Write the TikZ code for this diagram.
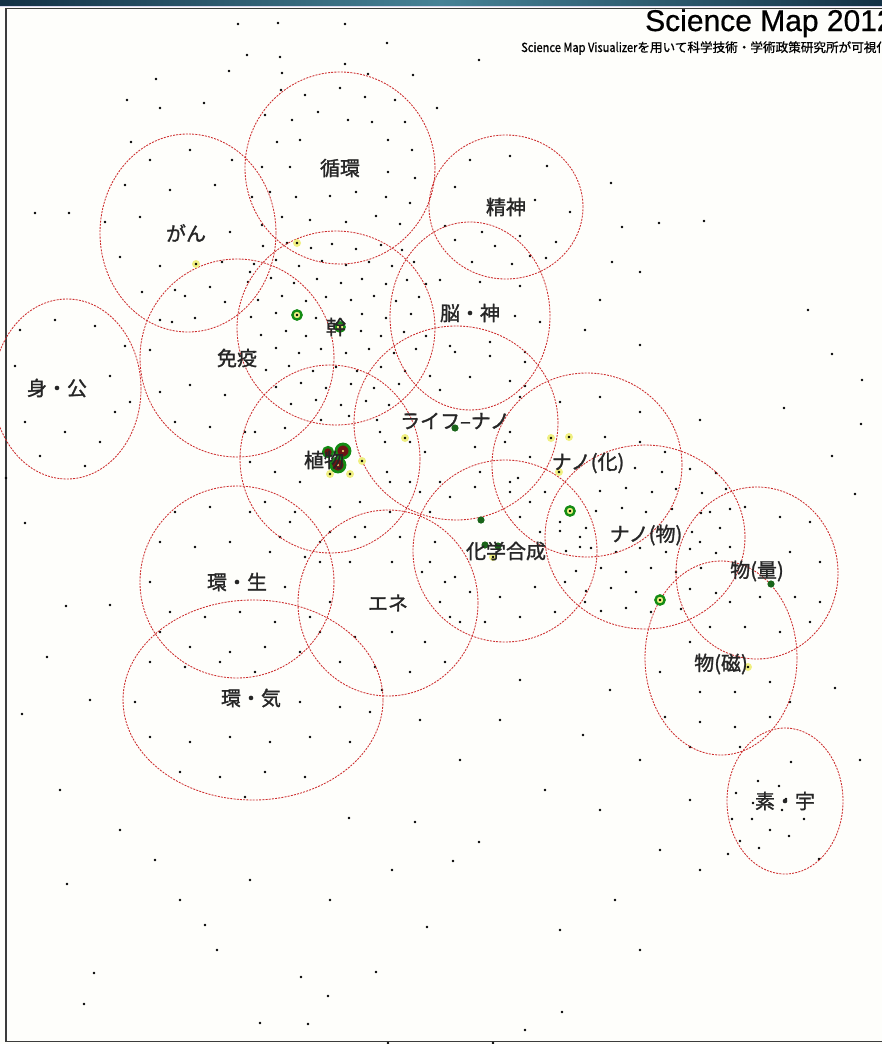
\documentclass[tikz,border=0pt]{standalone}
\usepackage{fontspec}
\setmainfont{Liberation Sans}
\newfontfamily\jp{Noto Sans CJK JP}
\newfontfamily\jpb[FakeBold=1.3]{Noto Sans CJK JP}
\definecolor{bg}{RGB}{254,254,251}
\definecolor{cred}{RGB}{205,45,45}
\definecolor{barA}{RGB}{20,50,70}
\definecolor{barB}{RGB}{70,130,150}
\definecolor{frameC}{RGB}{60,60,60}
\definecolor{ringG}{RGB}{20,140,20}
\definecolor{gdotC}{RGB}{25,100,25}
\definecolor{yhalo}{RGB}{240,240,130}
\definecolor{maroon}{RGB}{110,20,20}
\tikzset{
  circ/.style={cred, line width=0.85pt, dash pattern=on 2pt off 1.2pt},
  lab/.style={font=\jpb\fontsize{20}{22}\selectfont, inner sep=0pt, text=black!85},
}
\begin{document}
\begin{tikzpicture}[x=1pt,y=-1pt]
\useasboundingbox (0,0) rectangle (882,1044);
\clip (0,0) rectangle (882,1044);
\fill[bg] (0,0) rectangle (882,1044);
% top bar
\shade[left color=barA, right color=barA, middle color=barB] (0,0) rectangle (882,5.5);
\fill[white!70!cyan!40!blue!20] (0,5.5) rectangle (882,6.7);
% frame
\draw[frameC, line width=1.5pt] (882,8.6) -- (5.8,8.6) -- (5.8,1041.4) -- (882,1041.4);
% dots
\foreach \x/\y in {238/24,278/23,345/24,387/43,247/55,280/57,345/64,479/60,229/71,282/73,368/74,413/75,156/79,127/100,204/103,160/108,437/108,131/142,
281/90,305/95,340/88,365/97,395/100,265/115,292/120,318/112,348/120,372/122,405/122,277/142,300/140,388/140,412/150,262/167,290/167,388/172,415/178,270/192,296/197,330/196,356/192,386/197,410/203,282/217,310/220,346/222,376/216,400/224,
150/160,190/150,232/160,125/185,170/190,215/185,252/197,105/222,140/217,230/232,262/225,120/257,160/266,222/262,250/272,142/292,185/296,225/302,172/322,35/213,69/213,
470/160,510/156,547/166,455/187,535/200,570/212,445/226,482/232,520/236,556/242,472/262,512/264,546/258,
611/183,622/227,659/223,704/221,612/262,640/272,600/300,808/310,832/354,862/380,784/408,861/424,700/420,832/456,855/494,585/330,640/345,
263/246,287/243,311/248,332/244,356/249,381/245,402/250,
254/264,276/260,299/266,322/261,346/265,369/262,392/266,414/262,
248/282,271/278,294/283,317/279,341/283,362/279,386/284,407/280,426/284,
258/300,282/296,306/301,326/297,351/300,374/296,396/301,419/297,
251/317,276/313,316/318,362/314,386/318,411/314,
261/335,286/331,306/336,361/331,381/336,404/332,426/336,
254/352,276/348,299/353,321/349,346/353,369/349,394/353,416/349,
266/370,289/366,313/371,336/367,357/371,381/367,405/371,
276/387,301/383,326/388,351/384,374/388,399/384,
291/404,316/400,341/405,366/401,389/405,
321/420,349/416,377/420,
175/290,210/287,160/320,195/318,150/350,190/385,225/395,160/392,175/422,210/427,245/432,
455/240,495/246,530/256,440/280,480/282,520/286,515/316,540/322,450/346,490/342,525/352,430/376,470/377,510/381,
20/330,55/320,95/326,125/346,15/366,110/376,130/402,25/422,65/432,100/442,40/456,85/466,115/412,6/478,
255/432,285/428,380/432,410/442,250/462,275/472,300/482,387/472,410/482,265/502,295/512,330/507,360/502,390/512,280/537,320/542,355/537,
455/352,490/356,525/362,525/386,440/390,425/452,475/447,505/442,530/457,390/482,420/492,450/497,510/492,480/472,385/442,
520/397,560/402,600/397,640/412,510/432,605/437,640/442,665/452,530/502,540/532,580/537,518/478,
610/470,635/468,662/472,690/469,716/473,
600/491,626/488,652/492,676/489,702/493,726/489,
596/511,622/508,646/512,672/509,701/513,730/509,
560/531,586/528,692/532,720/528,
566/551,591/548,616/552,640/548,666/552,690/549,716/553,
576/571,601/568,626/572,651/568,676/572,701/568,
586/591,611/588,636/592,690/589,716/593,
601/611,626/608,651/612,681/609,
440/482,475/487,510/482,545/492,430/512,520/517,560/522,580/547,430/562,445/582,470/592,500/597,535/587,565/582,450/617,485/622,520/617,555/612,585/602,
175/512,210/507,250/512,290/522,160/542,195/547,230/542,270/552,305/557,150/582,285/587,170/612,205/617,240/612,275/622,310/617,190/647,230/652,265/647,300/652,
330/532,365/527,400/537,435/542,320/562,350/562,392/562,422/572,455/577,330/602,440/602,460/622,320/632,355/637,392/632,425/642,340/662,375/667,410/672,445/662,382/690,
160/632,150/662,185/667,220/662,255/672,135/702,300/702,340/707,370/712,150/737,190/742,230/737,270/742,310/737,350/742,180/772,220/777,265/772,305/777,245/797,
710/512,745/507,780/517,810/522,700/542,730/547,790/552,820/562,730/602,760/597,795/597,820/602,710/627,745/627,780/632,810/622,
690/642,660/672,700/692,735/692,770/682,790/702,665/717,700/722,735/727,770/717,690/747,740/747,
791/762,758/781,779/786,736/793,786/799,753/803,782/810,732/819,752/819,804/819,770/830,789/836,740/841,759/848,728/854,819/859,
25/523,66/606,47/657,22/714,110/605,90/700,60/790,120/830,155/860,67/884,205/925,217/950,94/973,84/1004,260/1023,308/1024,328/996,301/977,376/972,427/927,453/861,479/842,415/822,349/818,392/870,250/880,330/900,180/900,
562/1012,525/1030,388/1043,493/1043,610/690,583/735,640/760,545/790,600/810,690/800,660/850,700/870,615/900,560/930,640/950,500/720,460/760,520/680,420/720,835/688,860/760}
  \fill[black] (\x,\y) circle[radius=1.45pt];
% circles
\foreach \x/\y/\rx/\ry in {340/168/95/96, 188/233/88/99, 506/207/77/72, 336/328/99/97, 470/316/80/94, 237/358/97/99, 67/389/74/90, 330/459/90/94, 456/423/102/97, 587/465/95/92, 645/537/100/92, 505/551/92/91, 237/582/97/96, 388/603/90/93, 253/700/130/100, 757/573/81/86, 721/658/76/97, 785/801/58/73}
  \draw[circ] (\x,\y) ellipse[x radius=\rx pt, y radius=\ry pt];
% highlighted markers
\foreach \x/\y in {297/243,196/264,405/438,551/438,569/437,362/461,330/474,350/474,559/472,493/557,748/667}{
  \fill[yhalo] (\x,\y) circle[radius=4pt];
  \fill[black] (\x,\y) circle[radius=1.4pt];
}
\foreach \x/\y in {455/428,481/520,485/545,498/546,771/584}
  \fill[gdotC] (\x,\y) circle[radius=3.6pt];
\foreach \x/\y in {297/315,570/511,660/600,340/327}{
  \draw[ringG, line width=2.4pt, fill=yhalo] (\x,\y) circle[radius=4.6pt];
  \fill[black] (\x,\y) circle[radius=1.4pt];
}
\draw[ringG, line width=2.2pt, fill=maroon] (328,452) circle[radius=5pt];
\foreach \x/\y in {343/451,338/465}{
  \draw[ringG, line width=2.8pt, fill=maroon] (\x,\y) circle[radius=7pt];
  \fill[yhalo] (\x,\y) circle[radius=1.2pt];
}
% labels
\node[lab] (l1) at (340,168) {循環};
\node[lab] (l2) at (186,233) {がん};
\node[lab] (l3) at (506,207) {精神};
\node[lab] (l4) at (336,327) {幹};
\node[lab] (l5) at (470,313) {脳・神};
\node[lab] (l6) at (237,358) {免疫};
\node[lab] (l7) at (57,388) {身・公};
\node[lab] (l8) at (324,460) {植物};
\node[lab] (l9) at (455,421) {ライフ–ナノ};
\node[lab] (l10) at (588,463) {ナノ(化)};
\node[lab] (l11) at (646,535) {ナノ(物)};
\node[lab] (l12) at (506,551) {化学合成};
\node[lab] (l13) at (237,582) {環・生};
\node[lab] (l14) at (388,603) {エネ};
\node[lab] (l15) at (251,698) {環・気};
\node[lab] (l16) at (757,571) {物(量)};
\node[lab] (l17) at (721,664) {物(磁)};
\node[lab] (l18) at (785,801) {素・宇};
% title
\node[anchor=base west, inner sep=0pt, font=\fontsize{30}{31}\selectfont] (title) at (645,31) {\addfontfeature{FakeBold=0.6}Science Map 2012};
\node[anchor=base west, inner sep=0pt, font=\jp\fontsize{12.6}{13}\selectfont] (sub) at (521,52) {\addfontfeature{FakeBold=1}\scalebox{0.88}[1]{Science Map Visualizer}を用いて科学技術・学術政策研究所が可視化};
\end{tikzpicture}
\end{document}
